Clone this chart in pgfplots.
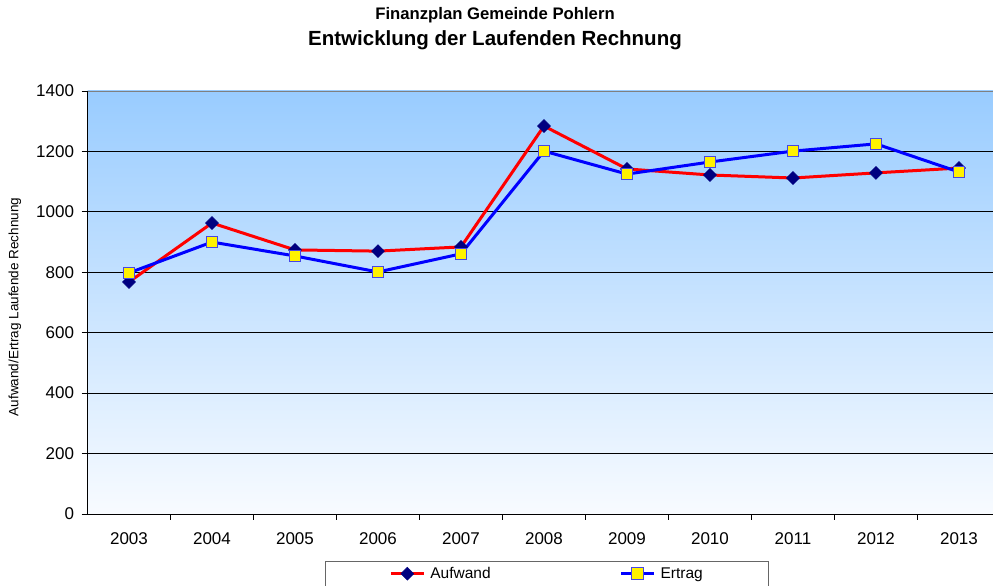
\documentclass[border=0pt]{standalone}
\usepackage{fontspec}
\setmainfont{Liberation Sans}
\usepackage{pgfplots}
\pgfplotsset{compat=1.18}
\definecolor{navy}{RGB}{0,0,128}
\definecolor{bgtop}{RGB}{153,204,255}
\definecolor{bgbot}{RGB}{248,251,255}
\definecolor{sqedge}{RGB}{70,70,230}
\begin{document}
\begin{tikzpicture}[x=1pt,y=1pt]
\path[use as bounding box] (0,0) rectangle (993,586);
\begin{axis}[
  at={(87.5pt,72pt)}, anchor=south west,
  scale only axis, width=905.5pt, height=423pt,
  xmin=-0.5, xmax=10.41, ymin=0, ymax=1400,
  axis lines*=left,
  axis line style={black, line width=0.8pt},
  axis background/.style={top color=bgtop, bottom color=bgbot},
  ytick={0,200,...,1200},
  extra y ticks={1400},
  extra y tick style={grid style={gray, line width=0.8pt}},
  ymajorgrids, grid style={black, line width=0.8pt},
  xtick={0,...,10},
  xticklabels={2003,2004,2005,2006,2007,2008,2009,2010,2011,2012,2013},
  minor xtick={0.5,1.5,...,9.5},
  major x tick style={draw=none},
  tick align=outside, major tick length=6pt, minor tick length=6pt,
  tick style={black, line width=0.8pt},
  ticklabel style={font=\fontsize{17}{20}\selectfont},
  xticklabel style={yshift=-9pt},
  yticklabel style={xshift=-4pt},
  /pgf/number format/assume math mode=true,
  /pgf/number format/1000 sep={},
  legend style={at={(0.2622,-0.111)}, anchor=north west, draw=gray!80!black, line width=0.8pt, fill=white,
    inner xsep=64pt, inner ysep=4pt, font=\fontsize{15.5}{18}\selectfont,
    /tikz/every odd column/.append style={column sep=3pt},
    /tikz/every even column/.append style={column sep=127pt}},
  legend columns=2,
  legend image code/.code={\draw[mark repeat=2,mark phase=2] plot coordinates {(0pt,0pt) (16.5pt,0pt) (33pt,0pt)};},
]
\addplot[red, line width=3pt, mark=square*, mark size=4.6pt,
  mark options={fill=navy, draw=navy, line width=0.5pt, rotate=45, solid}]
  coordinates {(0,768) (1,963) (2,874) (3,870) (4,884) (5,1284) (6,1142) (7,1122) (8,1112) (9,1129) (10,1145)};
\addlegendentry{Aufwand}
\addplot[blue, line width=3pt, mark=square*, mark size=5.8pt,
  mark options={fill=yellow, draw=sqedge, line width=1pt, solid}]
  coordinates {(0,798) (1,900) (2,854) (3,801) (4,861) (5,1201) (6,1125) (7,1165) (8,1201) (9,1225) (10,1132)};
\addlegendentry{Ertrag}
\end{axis}
\node[font=\bfseries\fontsize{16.7}{19}\selectfont] at (495,571) {Finanzplan Gemeinde Pohlern};
\node[font=\bfseries\fontsize{20.5}{24}\selectfont] at (495,546) {Entwicklung der Laufenden Rechnung};
\node[rotate=90, font=\fontsize{13.5}{15}\selectfont] at (15,279) {Aufwand/Ertrag Laufende Rechnung};
\end{tikzpicture}
\end{document}
